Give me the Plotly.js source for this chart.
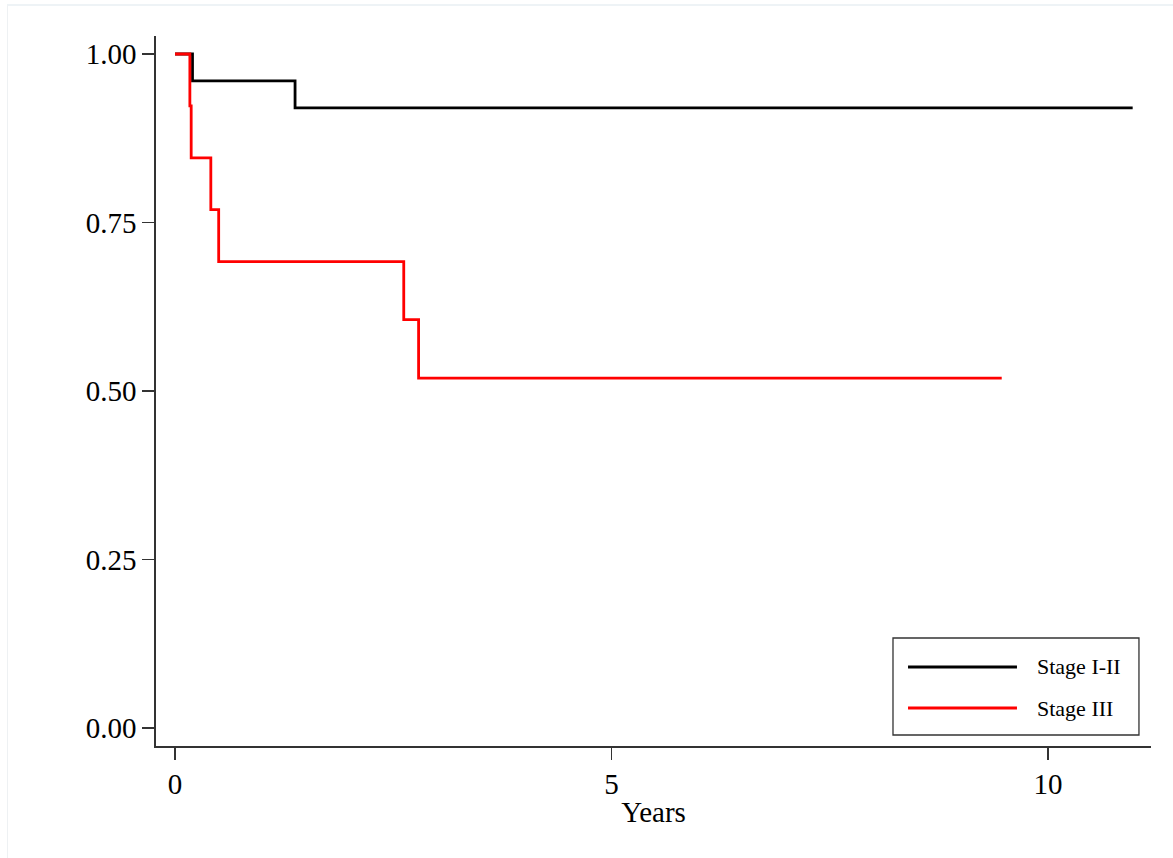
<!DOCTYPE html>
<html>
<head>
<meta charset="utf-8">
<script src="https://cdn.plot.ly/plotly-3.0.1.min.js"></script>
<style>
  html, body { margin: 0; padding: 0; background: #ffffff; }
  #frame { position: absolute; left: 7px; top: 4px; width: 1166px; height: 854px;
           border-top: 2px solid #eef3f6; border-left: 1px solid #eef1f3; box-sizing: border-box; pointer-events: none; z-index: 5; }
  #chart { position: absolute; left: 0; top: 0; width: 1173px; height: 858px; }
</style>
</head>
<body>
<div id="chart"></div>
<div id="frame"></div>
<script>
// Kaplan-Meier estimates
const seriesNames = ["Stage I-II", "Stage III"];
const seriesColors = ["#000000", "#ff0000"];

const stage12Years = [0, 0.20, 1.375, 10.97];
const stage12Surv  = [1.00, 0.96, 0.92, 0.92];

const stage3Years = [0, 0.17, 0.185, 0.41, 0.50, 2.62, 2.79, 9.47];
const stage3Surv  = [1.00, 0.923, 0.846, 0.769, 0.692, 0.606, 0.519, 0.519];

const xTickVals = [0, 5, 10];
const xTickText = ["0", "5", "10"];
const yTickVals = [0, 0.25, 0.5, 0.75, 1.0];
const yTickText = ["0.00", "0.25", "0.50", "0.75", "1.00"];
const xTitle = "Years";

const FONT = "Liberation Serif, Times New Roman, serif";

const traces = [
  { x: stage12Years, y: stage12Surv, name: seriesNames[0], type: "scatter", mode: "lines",
    line: { shape: "hv", color: seriesColors[0], width: 2.8 }, showlegend: false },
  { x: stage3Years, y: stage3Surv, name: seriesNames[1], type: "scatter", mode: "lines",
    line: { shape: "hv", color: seriesColors[1], width: 2.8 }, showlegend: false }
];

// Manual legend (box, sample lines, labels) in paper coordinates
const legBox = { x0: 0.7407, x1: 0.9879, y0: 0.0155, y1: 0.1521 };
const legRowsY = [0.1113, 0.0535];
const shapes = [
  { type: "rect", xref: "paper", yref: "paper", x0: legBox.x0, x1: legBox.x1, y0: legBox.y0, y1: legBox.y1,
    line: { color: "#333333", width: 1.3 }, fillcolor: "rgba(255,255,255,0)" }
];
const annotations = [];
seriesNames.forEach((nm, i) => {
  shapes.push({ type: "line", xref: "paper", yref: "paper", x0: 0.7558, x1: 0.8653,
    y0: legRowsY[i], y1: legRowsY[i], line: { color: seriesColors[i], width: 2.8 } });
  annotations.push({ xref: "paper", yref: "paper", x: 0.8834, y: legRowsY[i], xanchor: "left", yanchor: "middle",
    text: nm, showarrow: false, font: { family: FONT, size: 22, color: "#000000" } });
});

const layout = {
  width: 1173, height: 858,
  margin: { l: 156, r: 22, t: 36, b: 112, pad: 0 },
  paper_bgcolor: "#ffffff", plot_bgcolor: "#ffffff",
  showlegend: false,
  font: { family: FONT, size: 29, color: "#000000" },
  xaxis: {
    range: [-0.218, 11.18], tickvals: xTickVals, ticktext: xTickText,
    ticks: "outside", ticklen: 12, tickwidth: 1.3, tickcolor: "#333333",
    showline: true, linecolor: "#333333", linewidth: 1.6, showgrid: false, zeroline: false,
    tickfont: { family: FONT, size: 29, color: "#000000" },
    title: { text: xTitle, font: { family: FONT, size: 29, color: "#000000" }, standoff: 2 }
  },
  yaxis: {
    range: [-0.0267, 1.0267], tickvals: yTickVals, ticktext: yTickText,
    ticks: "outside", ticklen: 12, tickwidth: 1.3, tickcolor: "#333333",
    showline: true, linecolor: "#333333", linewidth: 1.6, showgrid: false, zeroline: false,
    tickfont: { family: FONT, size: 29, color: "#000000" }
  },
  shapes: shapes,
  annotations: annotations
};

Plotly.newPlot("chart", traces, layout, { displayModeBar: false, staticPlot: true });
</script>
</body>
</html>
